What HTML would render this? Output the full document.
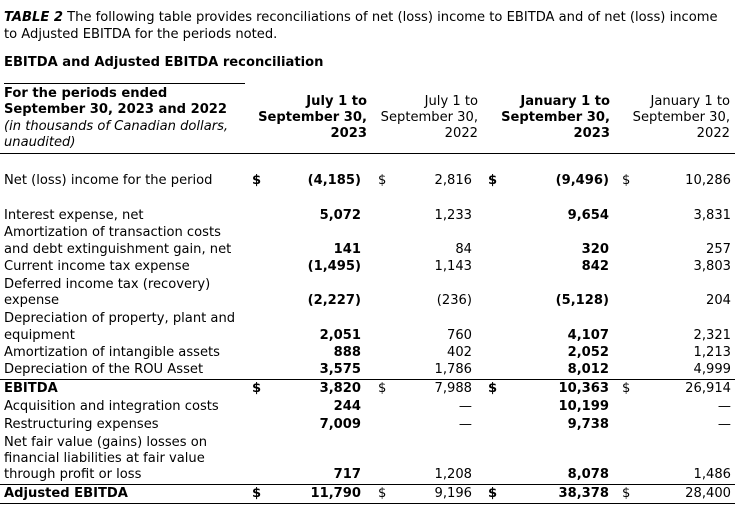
<!DOCTYPE html>
<html><head><meta charset="utf-8"><style>
html,body{margin:0;padding:0;background:#fff;}
body{width:750px;height:511px;position:relative;overflow:hidden;font-family:"DejaVu Sans","Liberation Sans",sans-serif;font-size:13.1px;color:#000;}
div{position:absolute;white-space:nowrap;line-height:17px;}
.b{font-weight:bold;}
.r{text-align:right;}
.ln{height:0;border-top:1.5px solid #000;}
</style></head><body>
<div style="left:4px;top:9px"><b><i>TABLE 2</i></b> The following table provides reconciliations of net (loss) income to EBITDA and of net (loss) income</div>
<div style="left:4px;top:26px">to Adjusted EBITDA for the periods noted.</div>
<div class="b" style="left:4px;top:54px">EBITDA and Adjusted EBITDA reconciliation</div>
<div class="ln" style="left:4px;width:241px;top:83px"></div>
<div class="b" style="left:4px;top:85px">For the periods ended</div>
<div class="b" style="left:4px;top:101px">September 30, 2023 and 2022</div>
<div style="left:4px;top:118px"><i>(in thousands of Canadian dollars,</i></div>
<div style="left:4px;top:134px"><i>unaudited)</i></div>

<div class="b r" style="right:383px;top:93px">July 1 to</div>
<div class="b r" style="right:383px;top:109px">September 30,</div>
<div class="b r" style="right:383px;top:125px">2023</div>
<div class="r" style="right:272px;top:93px">July 1 to</div>
<div class="r" style="right:272px;top:109px">September 30,</div>
<div class="r" style="right:272px;top:125px">2022</div>
<div class="b r" style="right:140px;top:93px">January 1 to</div>
<div class="b r" style="right:140px;top:109px">September 30,</div>
<div class="b r" style="right:140px;top:125px">2023</div>
<div class="r" style="right:20px;top:93px">January 1 to</div>
<div class="r" style="right:20px;top:109px">September 30,</div>
<div class="r" style="right:20px;top:125px">2022</div>
<div class="ln" style="left:0;width:735px;top:153px"></div>

<div class="ln" style="left:0;width:735px;top:379px"></div>
<div class="ln" style="left:0;width:735px;top:484px"></div>
<div class="ln" style="left:0;width:735px;top:503px"></div>

<div style="left:4px;top:172px">Net (loss) income for the period</div>
<div class="b" style="left:252px;top:172px">$</div><div class="b r" style="right:389px;top:172px">(4,185)</div>
<div style="left:378px;top:172px">$</div><div class="r" style="right:278px;top:172px">2,816</div>
<div class="b" style="left:488px;top:172px">$</div><div class="b r" style="right:141px;top:172px">(9,496)</div>
<div style="left:622px;top:172px">$</div><div class="r" style="right:19px;top:172px">10,286</div>

<div style="left:4px;top:207px">Interest expense, net</div>
<div class="b r" style="right:389px;top:207px">5,072</div><div class="r" style="right:278px;top:207px">1,233</div><div class="b r" style="right:141px;top:207px">9,654</div><div class="r" style="right:19px;top:207px">3,831</div>

<div style="left:4px;top:224px">Amortization of transaction costs</div>
<div style="left:4px;top:241px">and debt extinguishment gain, net</div>
<div class="b r" style="right:389px;top:241px">141</div><div class="r" style="right:278px;top:241px">84</div><div class="b r" style="right:141px;top:241px">320</div><div class="r" style="right:19px;top:241px">257</div>

<div style="left:4px;top:258px">Current income tax expense</div>
<div class="b r" style="right:389px;top:258px">(1,495)</div><div class="r" style="right:278px;top:258px">1,143</div><div class="b r" style="right:141px;top:258px">842</div><div class="r" style="right:19px;top:258px">3,803</div>

<div style="left:4px;top:276px">Deferred income tax (recovery)</div>
<div style="left:4px;top:292px">expense</div>
<div class="b r" style="right:389px;top:292px">(2,227)</div><div class="r" style="right:278px;top:292px">(236)</div><div class="b r" style="right:141px;top:292px">(5,128)</div><div class="r" style="right:19px;top:292px">204</div>

<div style="left:4px;top:310px">Depreciation of property, plant and</div>
<div style="left:4px;top:327px">equipment</div>
<div class="b r" style="right:389px;top:327px">2,051</div><div class="r" style="right:278px;top:327px">760</div><div class="b r" style="right:141px;top:327px">4,107</div><div class="r" style="right:19px;top:327px">2,321</div>

<div style="left:4px;top:344px">Amortization of intangible assets</div>
<div class="b r" style="right:389px;top:344px">888</div><div class="r" style="right:278px;top:344px">402</div><div class="b r" style="right:141px;top:344px">2,052</div><div class="r" style="right:19px;top:344px">1,213</div>

<div style="left:4px;top:361px">Depreciation of the ROU Asset</div>
<div class="b r" style="right:389px;top:361px">3,575</div><div class="r" style="right:278px;top:361px">1,786</div><div class="b r" style="right:141px;top:361px">8,012</div><div class="r" style="right:19px;top:361px">4,999</div>

<div class="b" style="left:4px;top:380px">EBITDA</div>
<div class="b" style="left:252px;top:380px">$</div><div class="b r" style="right:389px;top:380px">3,820</div>
<div style="left:378px;top:380px">$</div><div class="r" style="right:278px;top:380px">7,988</div>
<div class="b" style="left:488px;top:380px">$</div><div class="b r" style="right:141px;top:380px">10,363</div>
<div style="left:622px;top:380px">$</div><div class="r" style="right:19px;top:380px">26,914</div>

<div style="left:4px;top:398px">Acquisition and integration costs</div>
<div class="b r" style="right:389px;top:398px">244</div><div class="r" style="right:278px;top:398px">—</div><div class="b r" style="right:141px;top:398px">10,199</div><div class="r" style="right:19px;top:398px">—</div>

<div style="left:4px;top:416px">Restructuring expenses</div>
<div class="b r" style="right:389px;top:416px">7,009</div><div class="r" style="right:278px;top:416px">—</div><div class="b r" style="right:141px;top:416px">9,738</div><div class="r" style="right:19px;top:416px">—</div>

<div style="left:4px;top:434px">Net fair value (gains) losses on</div>
<div style="left:4px;top:450px">financial liabilities at fair value</div>
<div style="left:4px;top:466px">through profit or loss</div>
<div class="b r" style="right:389px;top:466px">717</div><div class="r" style="right:278px;top:466px">1,208</div><div class="b r" style="right:141px;top:466px">8,078</div><div class="r" style="right:19px;top:466px">1,486</div>

<div class="b" style="left:4px;top:485px">Adjusted EBITDA</div>
<div class="b" style="left:252px;top:485px">$</div><div class="b r" style="right:389px;top:485px">11,790</div>
<div style="left:378px;top:485px">$</div><div class="r" style="right:278px;top:485px">9,196</div>
<div class="b" style="left:488px;top:485px">$</div><div class="b r" style="right:141px;top:485px">38,378</div>
<div style="left:622px;top:485px">$</div><div class="r" style="right:19px;top:485px">28,400</div>
</body></html>
